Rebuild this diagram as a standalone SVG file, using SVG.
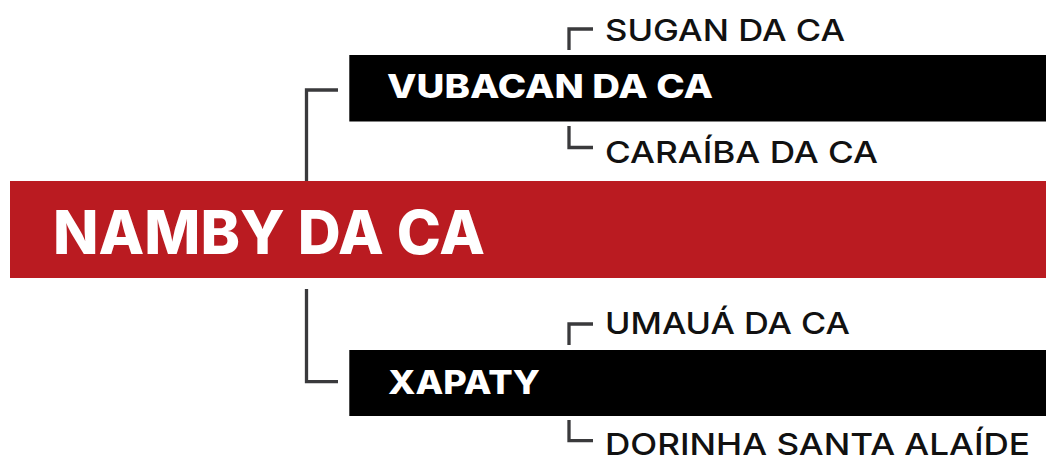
<svg xmlns="http://www.w3.org/2000/svg" width="1046" height="456" viewBox="0 0 1046 456">
<style>
.ln{fill:none;stroke:#3a3a3c;stroke-width:3.3;stroke-linecap:butt;stroke-linejoin:miter}
.main{font-family:Inter,"Liberation Sans",Arial,sans-serif;font-weight:800;fill:#fff}
.sub{font-family:Inter,"Liberation Sans",Arial,sans-serif;font-weight:500;fill:#111}
</style>
<rect width="1046" height="456" fill="#fff"/>
<g id="connectors">
<path class="ln" d="M306.5,181 V90 H338"/>
<path class="ln" d="M306.5,289 V381.7 H338"/>
<path class="ln" d="M569,50 V29 H593"/>
<path class="ln" d="M569,126 V147.5 H593"/>
<path class="ln" d="M569,345 V324 H593"/>
<path class="ln" d="M569,420 V440.7 H593"/>
</g>
<g id="node-namby">
<rect x="10" y="181" width="1036" height="97" fill="#BA1B21"/>
<text class="main" x="53" y="254.3" font-size="60" textLength="432" lengthAdjust="spacingAndGlyphs">NAMBY DA CA</text>
</g>
<g id="node-vubacan">
<rect x="349.3" y="55" width="697" height="66.5" fill="#000"/>
<text class="main" x="387" y="98.3" font-size="32" textLength="326" lengthAdjust="spacingAndGlyphs">VUBACAN DA CA</text>
</g>
<g id="node-xapaty">
<rect x="349.3" y="350" width="697" height="66" fill="#000"/>
<text class="main" x="388" y="393.5" font-size="32" textLength="152" lengthAdjust="spacingAndGlyphs">XAPATY</text>
</g>
<g id="node-sugan">
<text class="sub" x="605" y="41.3" font-size="30.5" textLength="240" lengthAdjust="spacingAndGlyphs">SUGAN DA CA</text>
</g>
<g id="node-caraiba">
<text class="sub" x="605" y="163" font-size="30.5" textLength="273" lengthAdjust="spacingAndGlyphs">CARAÍBA DA CA</text>
</g>
<g id="node-umaua">
<text class="sub" x="605" y="334" font-size="30.5" textLength="245" lengthAdjust="spacingAndGlyphs">UMAUÁ DA CA</text>
</g>
<g id="node-dorinha">
<text class="sub" x="605" y="454.5" font-size="30.5" textLength="425" lengthAdjust="spacingAndGlyphs">DORINHA SANTA ALAÍDE</text>
</g>
</svg>
